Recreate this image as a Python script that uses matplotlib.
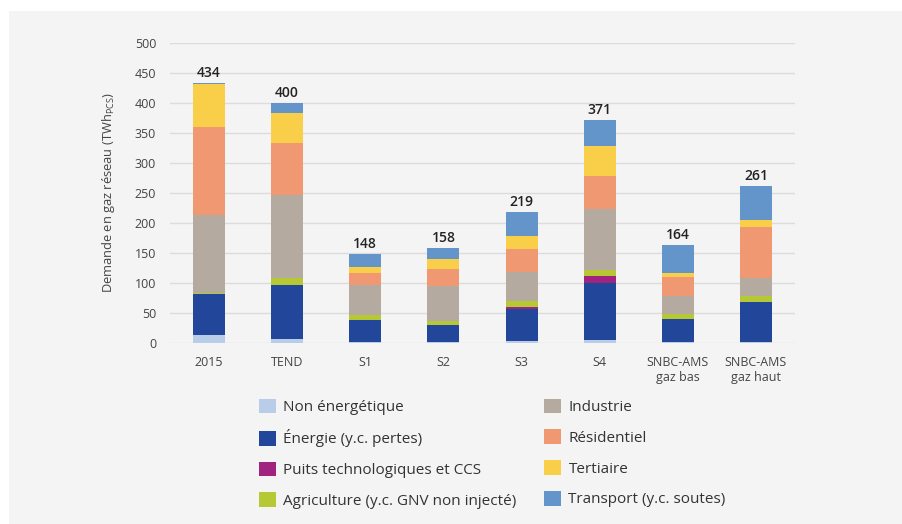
import matplotlib.pyplot as plt
from matplotlib.patches import Rectangle, Patch

plt.rcParams['font.family'] = ['Open Sans', 'DejaVu Sans']

# Scenarios and demand by sector (TWh PCS)
scenarios = ["2015", "TEND", "S1", "S2", "S3", "S4", "SNBC-AMS\ngaz bas", "SNBC-AMS\ngaz haut"]
non_energetique = [13, 7, 2, 2, 3, 5, 1, 1]
energie = [68, 89, 36, 28, 54, 95, 39, 68]
puits = [0, 0, 0, 0, 3, 12, 0, 0]
agriculture = [2, 12, 8, 6, 10, 10, 8, 9]
industrie = [130, 139, 50, 59, 48, 102, 31, 30]
residentiel = [147, 86, 20, 29, 39, 55, 31, 86]
tertiaire = [72, 50, 10, 16, 21, 49, 6, 11]
transport = [2, 17, 22, 18, 41, 43, 48, 56]
totals = [434, 400, 148, 158, 219, 371, 164, 261]

series = [
    ("Non énergétique", non_energetique, "#b9cde9"),
    ("Énergie (y.c. pertes)", energie, "#22469a"),
    ("Puits technologiques et CCS", puits, "#a0237f"),
    ("Agriculture (y.c. GNV non injecté)", agriculture, "#b6c935"),
    ("Industrie", industrie, "#b5aaa0"),
    ("Résidentiel", residentiel, "#ef9871"),
    ("Tertiaire", tertiaire, "#f9cf4a"),
    ("Transport (y.c. soutes)", transport, "#6395ca"),
]

fig = plt.figure(figsize=(9.03, 5.24), dpi=100, facecolor="white")
fig.patches.append(Rectangle((9 / 903, 0), 1, 1 - 11 / 524, transform=fig.transFigure,
                             facecolor="#f4f4f4", edgecolor="none", zorder=-10))
ax = fig.add_axes([170 / 903, 1 - 343 / 524, 625 / 903, 300 / 524])
ax.set_facecolor("none")

x = list(range(len(scenarios)))
bottom = [0] * len(scenarios)
handles = []
for name, vals, color in series:
    ax.bar(x, vals, width=0.41, bottom=bottom, color=color, edgecolor="none", zorder=3)
    bottom = [b + v for b, v in zip(bottom, vals)]
    handles.append(Patch(facecolor=color, edgecolor="none", label=name))

for xi, tot in zip(x, totals):
    ax.text(xi, tot + 5, str(tot), ha="center", va="bottom", fontsize=10,
            fontweight="semibold", color="#222222")

ax.set_xlim(-0.5, 7.5)
ax.set_ylim(0, 500)
ax.set_yticks(range(0, 501, 50))
ax.grid(axis="y", color="#dcdcdc", linewidth=1, zorder=0)
for s in ax.spines.values():
    s.set_visible(False)
ax.tick_params(length=0, labelsize=9, labelcolor="#444444")
ax.tick_params(axis="y", pad=10)
ax.tick_params(axis="x", pad=9)
ax.set_xticks(x)
ax.set_xticklabels(scenarios, linespacing=1.2)
ax.set_ylabel(r"Demande en gaz réseau (TWh$_\mathregular{PCS}$)", fontsize=9.3, color="#444444")
ax.yaxis.set_label_coords(-53 / 625, 0.5)

fig.legend(handles=handles, ncol=2, loc="upper left", bbox_to_anchor=(245 / 903, 1 - 385 / 524),
           frameon=False, fontsize=11, handlelength=1.1, handleheight=1.1, handletextpad=0.5,
           labelspacing=0.93, columnspacing=1.8, labelcolor="#333333")

fig.savefig("out.png", dpi=100, facecolor=fig.get_facecolor())
